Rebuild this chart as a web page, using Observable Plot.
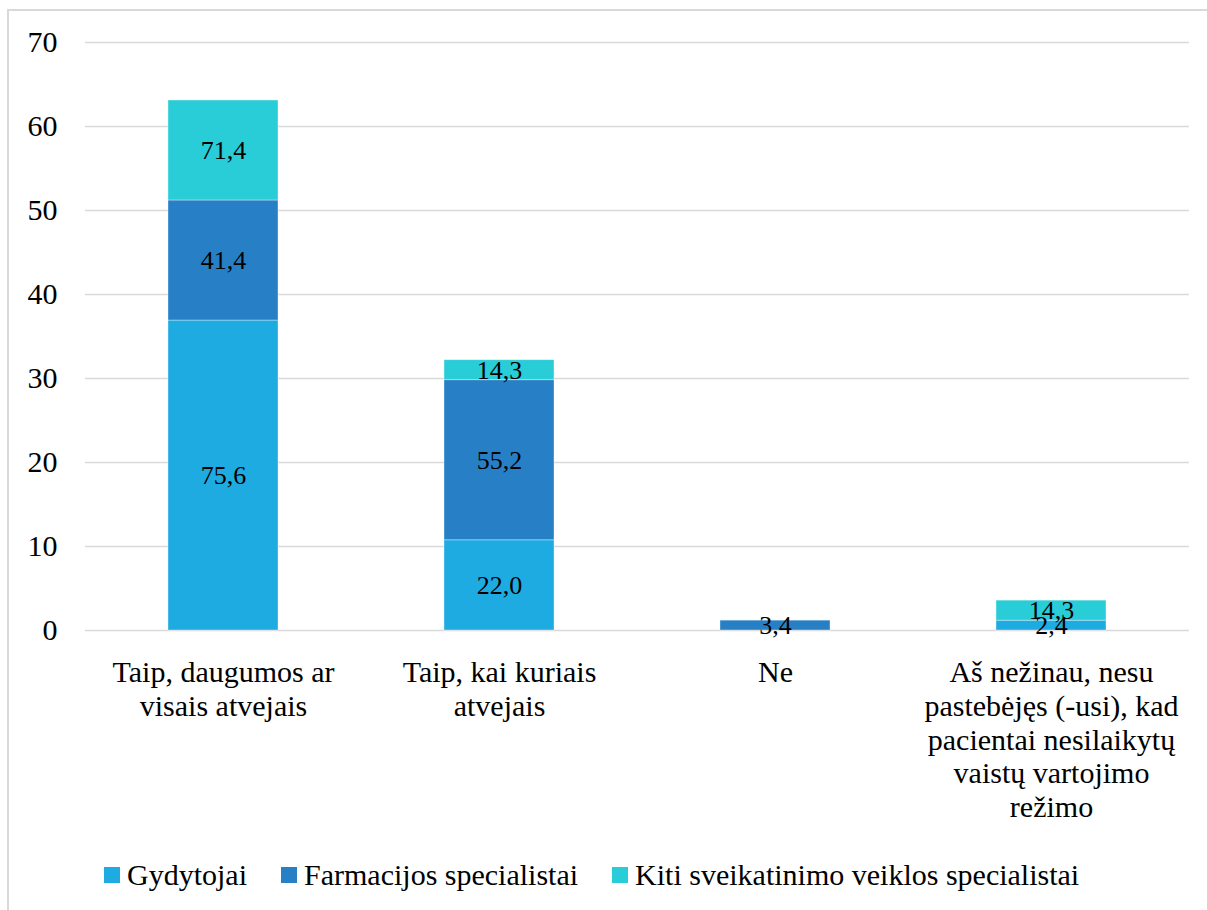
<!DOCTYPE html>
<html lang="lt">
<head>
<meta charset="utf-8">
<script src="https://cdn.jsdelivr.net/npm/d3@7"></script>
<script src="https://cdn.jsdelivr.net/npm/@observablehq/plot@0.6"></script>
<style>
  html, body { margin: 0; padding: 0; background: #fff; overflow: hidden; }
  #page { position: relative; width: 1207px; height: 910px; font-family: "Liberation Serif", LiberationSerif, "Noto Serif", "DejaVu Serif", FreeSerif, "Nimbus Roman", Tinos, "Times New Roman", Times, serif; }
  #frame { position: absolute; left: 7px; top: 9px; width: 1300px; height: 1000px; border: 2px solid #d9d9d9; box-sizing: border-box; }
  #chart { position: absolute; left: 0; top: 0; }
  #legend { position: absolute; left: 104px; top: 858px; display: flex; align-items: center; font-size: 30px; color: #000; white-space: nowrap; }
  .item { display: flex; align-items: center; margin-right: 34px; }
  .swatch { width: 16px; height: 16px; margin-right: 7px; }
</style>
</head>
<body>
<div id="page">
  <div id="frame"></div>
  <div id="chart"></div>
  <div id="legend"></div>
</div>
<script>
// Answer categories (x axis) and their wrapped tick labels
const categories = [
  "Taip, daugumos ar visais atvejais",
  "Taip, kai kuriais atvejais",
  "Ne",
  "Aš nežinau, nesu pastebėjęs (-usi), kad pacientai nesilaikytų vaistų vartojimo režimo"
];
const tickLabels = [
  "Taip, daugumos ar\nvisais atvejais",
  "Taip, kai kuriais\natvejais",
  "Ne",
  "Aš nežinau, nesu\npastebėjęs (-usi), kad\npacientai nesilaikytų\nvaistų vartojimo\nrežimo"
];

// Respondent groups and how many answered in each group
const groups = ["Gydytojai", "Farmacijos specialistai", "Kiti sveikatinimo veiklos specialistai"];
const respondents = [41, 29, 14];

// Share of answers within each group, percent (per category)
const gydytojai = [75.6, 22.0, 0, 2.4];
const farmacijos = [41.4, 55.2, 3.4, 0];
const kiti = [71.4, 14.3, 0, 14.3];

const yTicks = [0, 10, 20, 30, 40, 50, 60, 70];
const colors = ["#1eabe2", "#2780c6", "#29cdd7"];

// Each segment is the group's within-group percentage weighted by the
// group's share of all respondents, so stacks show percent of the total.
const total = d3.sum(respondents);
const series = [gydytojai, farmacijos, kiti];
const rows = [];
groups.forEach((g, gi) => {
  categories.forEach((c, ci) => {
    const pct = series[gi][ci];
    if (pct > 0) rows.push({category: c, group: g, pct, value: pct * respondents[gi] / total});
  });
});

const fmt = v => v.toFixed(1).replace(".", ",");
const font = "\"Liberation Serif\", LiberationSerif, \"Noto Serif\", \"DejaVu Serif\", FreeSerif, \"Nimbus Roman\", Tinos, \"Times New Roman\", Times, serif";

const chart = Plot.plot({
  width: 1207,
  height: 850,
  marginTop: 42,
  marginBottom: 220,
  marginLeft: 85,
  marginRight: 18,
  style: {fontFamily: font, color: "#000", background: "transparent"},
  x: {domain: categories, paddingInner: 0.6, paddingOuter: 0.3, label: null},
  y: {domain: [0, 70], label: null},
  color: {domain: groups, range: colors},
  marks: [
    Plot.gridY(yTicks, {stroke: "#d9d9d9", strokeOpacity: 1, strokeWidth: 1.4}),
    Plot.axisY(yTicks, {tickSize: 0, tickPadding: 28, fontSize: 30, fontFamily: font, label: null}),
    Plot.axisX({
      tickSize: 0,
      tickPadding: 28,
      fontSize: 30,
      fontFamily: font,
      lineHeight: 1.12,
      label: null,
      tickFormat: d => tickLabels[categories.indexOf(d)]
    }),
    Plot.barY(rows, Plot.stackY({
      x: "category", y: "value", fill: "group", order: null,
      stroke: "#fff", strokeOpacity: 0.45, strokeWidth: 0.8
    })),
    Plot.text(rows, Plot.stackY({
      x: "category", y: "value", z: "group", order: null,
      text: d => fmt(d.pct), fontSize: 26, fontFamily: font, fill: "#000"
    }))
  ]
});
document.getElementById("chart").appendChild(chart);

// Legend
const legend = document.getElementById("legend");
groups.forEach((g, i) => {
  const item = document.createElement("div");
  item.className = "item";
  const sw = document.createElement("span");
  sw.className = "swatch";
  sw.style.background = colors[i];
  const label = document.createElement("span");
  label.textContent = g;
  item.appendChild(sw);
  item.appendChild(label);
  legend.appendChild(item);
});
</script>
</body>
</html>
